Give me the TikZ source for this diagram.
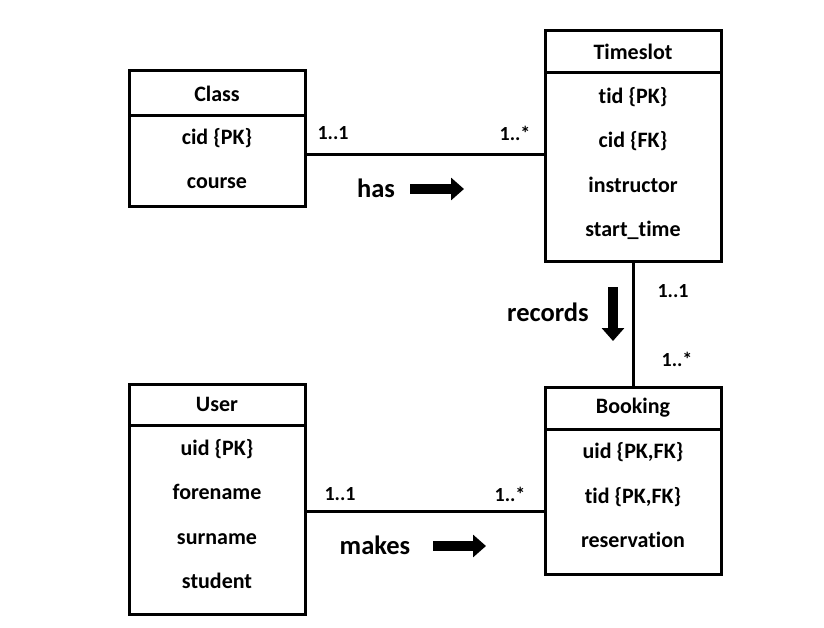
\documentclass[tikz,border=0pt]{standalone}
\usepackage{fontspec}
\setmainfont[RawFeature={-liga}]{Carlito}
\usepackage{tikz}
\usetikzlibrary{arrows.meta}

\tikzset{
  tbl/.style={draw, line width=3pt, minimum width=176pt, inner sep=0pt,
    font=\fontsize{22}{26}\selectfont\bfseries},
  attr/.style={font=\fontsize{22}{26}\selectfont\bfseries, text height=16pt, text depth=5pt},
  mult/.style={font=\fontsize{20}{24}\selectfont\bfseries},
  verb/.style={font=\fontsize{26.5}{30}\selectfont\bfseries},
  link/.style={line width=3pt},
  fat/.style={line width=10pt, -{Triangle[length=13pt,width=22pt]}}
}

\begin{document}
\begin{tikzpicture}[x=1pt,y=-1pt]
    \useasboundingbox (0,0) rectangle (824,628);
    % tables
    \node[tbl, minimum height=45pt] (classhead) at (217,93.5) {Class};
    \node[tbl, minimum height=91pt] (classbody) at (217,161.5) {};
    \node[tbl, minimum height=42pt] (tshead) at (633,52) {Timeslot};
    \node[tbl, minimum height=189pt] (tsbody) at (633,167.5) {};
    \node[tbl, minimum height=41pt] (userhead) at (217,404.5) {User};
    \node[tbl, minimum height=189pt] (userbody) at (217,519.5) {};
    \node[tbl, minimum height=42pt] (bkhead) at (633,408) {Booking};
    \node[tbl, minimum height=145pt] (bkbody) at (633,501.5) {};
    % attributes
    \foreach \t [count=\i] in {cid \{PK\}, course}{
      \node[attr] (class-\i) at (217,{139+44*(\i-1)}) {\t};
    };
    \foreach \t [count=\i] in {tid \{PK\}, cid \{FK\}, instructor, start\_time}{
      \node[attr] (ts-\i) at (633,{98+44.3*(\i-1)}) {\t};
    };
    \foreach \t [count=\i] in {uid \{PK\}, forename, surname, student}{
      \node[attr] (user-\i) at (217,{450+44.3*(\i-1)}) {\t};
    };
    \foreach \t [count=\i] in {{uid \{PK,FK\}}, {tid \{PK,FK\}}, reservation}{
      \node[attr] (bk-\i) at (633,{453+44.5*(\i-1)}) {\t};
    };
    % relations
    \draw[link] ([yshift=6.5pt]classbody.east) -- ([yshift=6.5pt]classbody.east -| tsbody.west);
    \draw[link] (tsbody.south) -- (bkhead.north);
    \draw[link] ([yshift=8.5pt]userbody.east) -- ([yshift=8.5pt]userbody.east -| bkbody.west);
    \node[mult] (has-a) at (333,133) {1..1};
    \node[mult] (has-b) at (515,133) {1..*};
    \node[mult] (rec-a) at (673,291) {1..1};
    \node[mult] (rec-b) at (677,359) {1..*};
    \node[mult] (mk-a) at (340,494) {1..1};
    \node[mult] (mk-b) at (510,494) {1..*};
    \node[verb] (has) at (376,188) {has};
    \node[verb] (records) at (548,312) {records};
    \node[verb] (makes) at (375,545) {makes};
    \draw[fat] (410,189) -- (464,189);
    \draw[fat] (613,287) -- (613,341);
    \draw[fat] (433,546) -- (486,546);
\end{tikzpicture}
\end{document}
